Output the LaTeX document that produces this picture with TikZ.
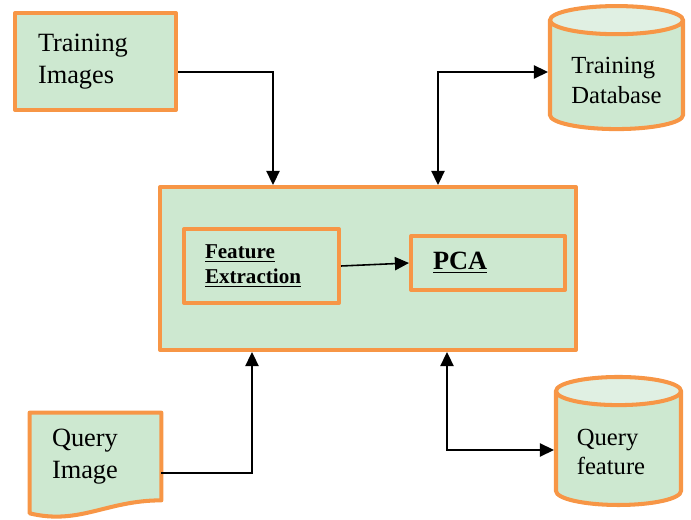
\documentclass[tikz,border=0pt]{standalone}
\usepackage{fontspec}
\setmainfont{Liberation Serif}
\usetikzlibrary{shapes.geometric,arrows.meta,backgrounds}
\definecolor{boxorange}{HTML}{F79646}
\definecolor{boxgreen}{HTML}{CDE8D0}
\definecolor{topgreen}{HTML}{E0F0E3}
\tikzset{
  greenbox/.style={draw=boxorange,fill=boxgreen,line width=2.3pt,line join=round,align=left},
  dbcyl/.style={shape=cylinder,shape border rotate=90,aspect=2.4,draw=boxorange,line width=2.3pt,
    cylinder uses custom fill,cylinder body fill=boxgreen,cylinder end fill=topgreen},
  arr/.style={line width=1.1pt,-{Triangle[length=8pt,width=7.5pt]}},
  biarr/.style={line width=1.1pt,{Triangle[length=8pt,width=7.5pt]}-{Triangle[length=8pt,width=7.5pt]}}
}
\begin{document}
\begin{tikzpicture}
\useasboundingbox (0,0) rectangle (13.82,-10.4);
\node[greenbox,minimum width=3.22cm,minimum height=1.94cm,text width=2.3cm,inner xsep=0.46cm,
  font=\fontsize{15}{18.2}\selectfont] (timg) at (1.91,-1.23) {Training\\Images};
\node[greenbox,minimum width=8.32cm,minimum height=3.26cm] (main) at (7.36,-5.37) {};
\node[greenbox,minimum width=3.10cm,minimum height=1.48cm,text width=2.26cm,inner xsep=0.42cm,
  font=\fontsize{12}{14}\selectfont\bfseries] (fe) at (5.23,-5.32) {\underline{Feature}\\\underline{Extraction}};
\node[greenbox,minimum width=3.08cm,minimum height=1.08cm,text width=2.2cm,inner xsep=0.44cm,
  font=\fontsize{15}{18}\selectfont\bfseries] (pca) at (9.76,-5.26) {\underline{PCA}};
\node[dbcyl,minimum width=2.66cm,minimum height=2.46cm] (tdb) at (12.33,-1.57) {};
\node[align=left,font=\fontsize{14}{16.6}\selectfont] (tdbtext) at (12.33,-1.61) {Training\\Database};
\node[dbcyl,minimum width=2.5cm,minimum height=2.56cm] (qf) at (12.37,-9.04) {};
\node[align=left,font=\fontsize{14}{16.5}\selectfont] (qftext) at (12.22,-9.04) {Query\\feature};
\node[minimum width=2.62cm,minimum height=1.74cm,text width=1.74cm,inner xsep=0.44cm,align=left,
  font=\fontsize{15}{18.5}\selectfont] (qimg) at (1.91,-9.13) {Query\\Image};
\begin{pgfonlayer}{background}
\draw[draw=boxorange,fill=boxgreen,line width=2.3pt,line join=round] ([yshift=-0.26cm]qimg.south west) -- (qimg.north west) -- (qimg.north east) -- (qimg.south east)
  .. controls ([xshift=-1.1cm]qimg.south east) and ([xshift=1.0cm,yshift=-0.5cm]qimg.south west) .. ([yshift=-0.26cm]qimg.south west) -- cycle;
\end{pgfonlayer}
\draw[arr] ([yshift=-0.21cm]timg.east) -| ([xshift=-1.9cm]main.north);
\draw[biarr] (tdb.west |- timg.east) ++(0,-0.21) -| ([xshift=1.4cm]main.north);
\draw[arr] ([yshift=-0.33cm]qimg.east) -| ([xshift=-2.32cm]main.south);
\draw[biarr] ([yshift=0.04cm]qf.west) -| ([xshift=1.58cm]main.south);
\draw[line width=0.9pt,-{Triangle[length=8pt,width=7.5pt]}] (fe.east) -- (pca.west);
\end{tikzpicture}
\end{document}
